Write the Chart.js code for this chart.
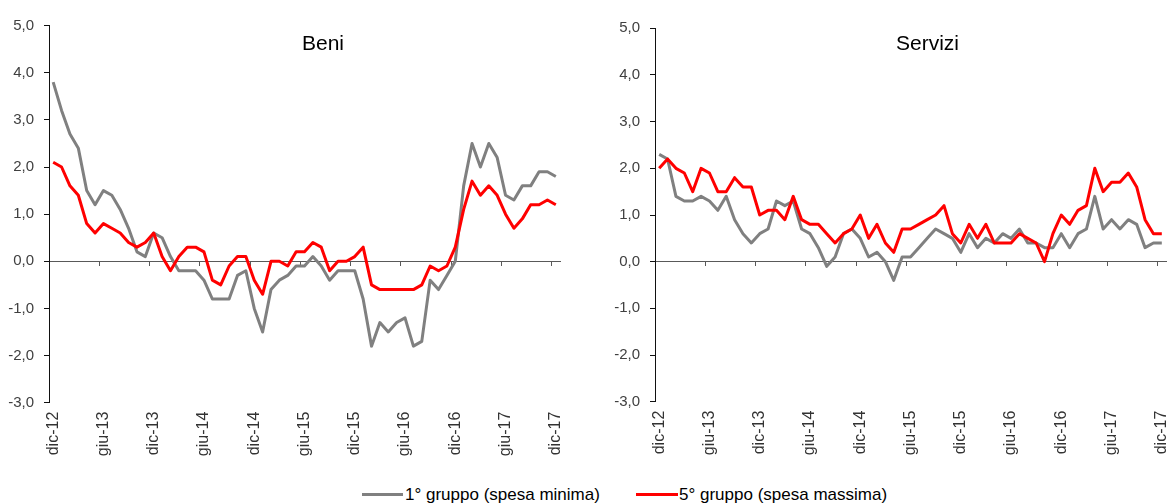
<!DOCTYPE html>
<html><head><meta charset="utf-8">
<script src="https://cdn.jsdelivr.net/npm/chart.js@4.4.1/dist/chart.umd.min.js"></script>
<style>
html,body{margin:0;padding:0;background:#fff;overflow:hidden;width:1171px;height:503px;position:relative}
#c1{position:absolute;left:0;top:0}
#c2{position:absolute;left:606px;top:0}
.leg{position:absolute;font-family:'Liberation Sans',Arial,sans-serif;font-size:17px;color:#000;line-height:17px;white-space:nowrap}
.sw{position:absolute;height:3px}
</style></head><body>
<canvas id="c1" width="590" height="470" style="width:590px;height:470px"></canvas>
<canvas id="c2" width="565" height="470" style="width:565px;height:470px"></canvas>
<div class="sw" style="left:362px;top:493px;width:41px;background:#808080"></div>
<div class="leg" id="l1" style="left:405px;top:486px"></div>
<div class="sw" style="left:636px;top:493px;width:42px;background:#ff0000"></div>
<div class="leg" id="l2" style="left:679px;top:486px"></div>
<script>
const categories = [
 'dic-12','gen-13','feb-13','mar-13','apr-13','mag-13','giu-13','lug-13','ago-13','set-13','ott-13','nov-13',
 'dic-13','gen-14','feb-14','mar-14','apr-14','mag-14','giu-14','lug-14','ago-14','set-14','ott-14','nov-14',
 'dic-14','gen-15','feb-15','mar-15','apr-15','mag-15','giu-15','lug-15','ago-15','set-15','ott-15','nov-15',
 'dic-15','gen-16','feb-16','mar-16','apr-16','mag-16','giu-16','lug-16','ago-16','set-16','ott-16','nov-16',
 'dic-16','gen-17','feb-17','mar-17','apr-17','mag-17','giu-17','lug-17','ago-17','set-17','ott-17','nov-17',
 'dic-17'];
const seriesNames = ['1° gruppo (spesa minima)', '5° gruppo (spesa massima)'];
const panelTitles = ['Beni', 'Servizi'];
const yTicks = [-3, -2, -1, 0, 1, 2, 3, 4, 5];

const beniGruppo1 = [3.8,3.2,2.7,2.4,1.5,1.2,1.5,1.4,1.1,0.7,0.2,0.1,
 0.6,0.5,0.1,-0.2,-0.2,-0.2,-0.4,-0.8,-0.8,-0.8,-0.3,-0.2,
 -1.0,-1.5,-0.6,-0.4,-0.3,-0.1,-0.1,0.1,-0.1,-0.4,-0.2,-0.2,
 -0.2,-0.8,-1.8,-1.3,-1.5,-1.3,-1.2,-1.8,-1.7,-0.4,-0.6,-0.3,
 0.0,1.6,2.5,2.0,2.5,2.2,1.4,1.3,1.6,1.6,1.9,1.9,
 1.8];
const beniGruppo5 = [2.1,2.0,1.6,1.4,0.8,0.6,0.8,0.7,0.6,0.4,0.3,0.4,
 0.6,0.1,-0.2,0.1,0.3,0.3,0.2,-0.4,-0.5,-0.1,0.1,0.1,
 -0.4,-0.7,0.0,0.0,-0.1,0.2,0.2,0.4,0.3,-0.2,0.0,0.0,
 0.1,0.3,-0.5,-0.6,-0.6,-0.6,-0.6,-0.6,-0.5,-0.1,-0.2,-0.1,
 0.3,1.1,1.7,1.4,1.6,1.4,1.0,0.7,0.9,1.2,1.2,1.3,
 1.2];
const serviziGruppo1 = [2.3,2.2,1.4,1.3,1.3,1.4,1.3,1.1,1.4,0.9,0.6,0.4,
 0.6,0.7,1.3,1.2,1.3,0.7,0.6,0.3,-0.1,0.1,0.6,0.7,
 0.5,0.1,0.2,0.0,-0.4,0.1,0.1,0.3,0.5,0.7,0.6,0.5,
 0.2,0.6,0.3,0.5,0.4,0.6,0.5,0.7,0.4,0.4,0.3,0.3,
 0.6,0.3,0.6,0.7,1.4,0.7,0.9,0.7,0.9,0.8,0.3,0.4,
 0.4];
const serviziGruppo5 = [2.0,2.2,2.0,1.9,1.5,2.0,1.9,1.5,1.5,1.8,1.6,1.6,
 1.0,1.1,1.1,0.9,1.4,0.9,0.8,0.8,0.6,0.4,0.6,0.7,
 1.0,0.5,0.8,0.4,0.2,0.7,0.7,0.8,0.9,1.0,1.2,0.6,
 0.4,0.8,0.5,0.8,0.4,0.4,0.4,0.6,0.5,0.4,0.0,0.6,
 1.0,0.8,1.1,1.2,2.0,1.5,1.7,1.7,1.9,1.6,0.9,0.6,
 0.6];

document.getElementById('l1').textContent = seriesNames[0];
document.getElementById('l2').textContent = seriesNames[1];

const FONT = "'Liberation Sans', Arial, sans-serif";
Chart.defaults.font.family = FONT;

const titlePlugin = {
  id: 'panelTitle',
  afterDraw(chart, args, opts) {
    const ctx = chart.ctx;
    ctx.save();
    ctx.font = '21px ' + FONT;
    ctx.fillStyle = '#000';
    ctx.textAlign = 'left';
    ctx.textBaseline = 'alphabetic';
    ctx.fillText(opts.text, opts.x, opts.y);
    ctx.restore();
  }
};

function makeChart(id, title, g1, g5, geo) {
  return new Chart(document.getElementById(id), {
    type: 'line',
    data: {
      labels: categories,
      datasets: [
        { label: seriesNames[0], data: g1, borderColor: '#808080', borderWidth: 3, pointRadius: 0, tension: 0, borderJoinStyle: 'round', order: 1, xAxisID: 'x', yAxisID: 'y' },
        { label: seriesNames[1], data: g5, borderColor: '#ff0000', borderWidth: 3, pointRadius: 0, tension: 0, borderJoinStyle: 'round', order: 0, xAxisID: 'x', yAxisID: 'y' }
      ]
    },
    options: {
      responsive: false,
      animation: false,
      events: [],
      layout: { padding: { top: geo.top, right: geo.right, bottom: 0, left: 0 } },
      plugins: {
        legend: { display: false },
        tooltip: { enabled: false },
        panelTitle: { text: title, x: geo.tx, y: geo.ty }
      },
      scales: {
        x: {
          type: 'category',
          position: 'bottom',
          offset: true,
          border: { display: false },
          grid: { display: false, drawTicks: false },
          ticks: {
            autoSkip: false, minRotation: 90, maxRotation: 90, padding: 9,
            color: '#333', font: { size: 16 },
            callback: (v, i) => (i % 6 === 0 ? categories[i] : '')
          },
          afterFit: (s) => { s.height = 470 - geo.bottom; s.paddingLeft = 0; s.paddingRight = 0; }
        },
        x0: {
          type: 'category',
          position: { y: 0 },
          offset: true,
          border: { display: true, color: '#595959', width: 1 },
          grid: {
            display: true, offset: true, drawOnChartArea: false, drawTicks: true, tickLength: 4, tickWidth: 1,
            color: '#595959',
            tickColor: (c) => (c.index % 6 === 0 ? '#595959' : 'rgba(0,0,0,0)')
          },
          ticks: { display: false, autoSkip: false }
        },
        y: {
          type: 'linear',
          min: yTicks[0], max: yTicks[yTicks.length - 1],
          border: { display: true, color: '#111', width: 1 },
          grid: { drawOnChartArea: false, drawTicks: true, tickLength: 5, color: '#111' },
          afterBuildTicks: (s) => { s.ticks = yTicks.map(v => ({ value: v })); },
          ticks: {
            padding: 10, color: '#404040', font: { size: 15 },
            callback: (v) => v.toFixed(1).replace('.', ',')
          },
          afterFit: (s) => { s.width = 49; s.paddingTop = 0; s.paddingBottom = 0; }
        }
      }
    },
    plugins: [titlePlugin]
  });
}

makeChart('c1', panelTitles[0], beniGruppo1, beniGruppo5, { top: 25.6, right: 30, bottom: 402.7, tx: 302, ty: 50 });
makeChart('c2', panelTitles[1], serviziGruppo1, serviziGruppo5, { top: 28.3, right: 5, bottom: 401.7, tx: 290, ty: 49.5 });
</script>
</body></html>
